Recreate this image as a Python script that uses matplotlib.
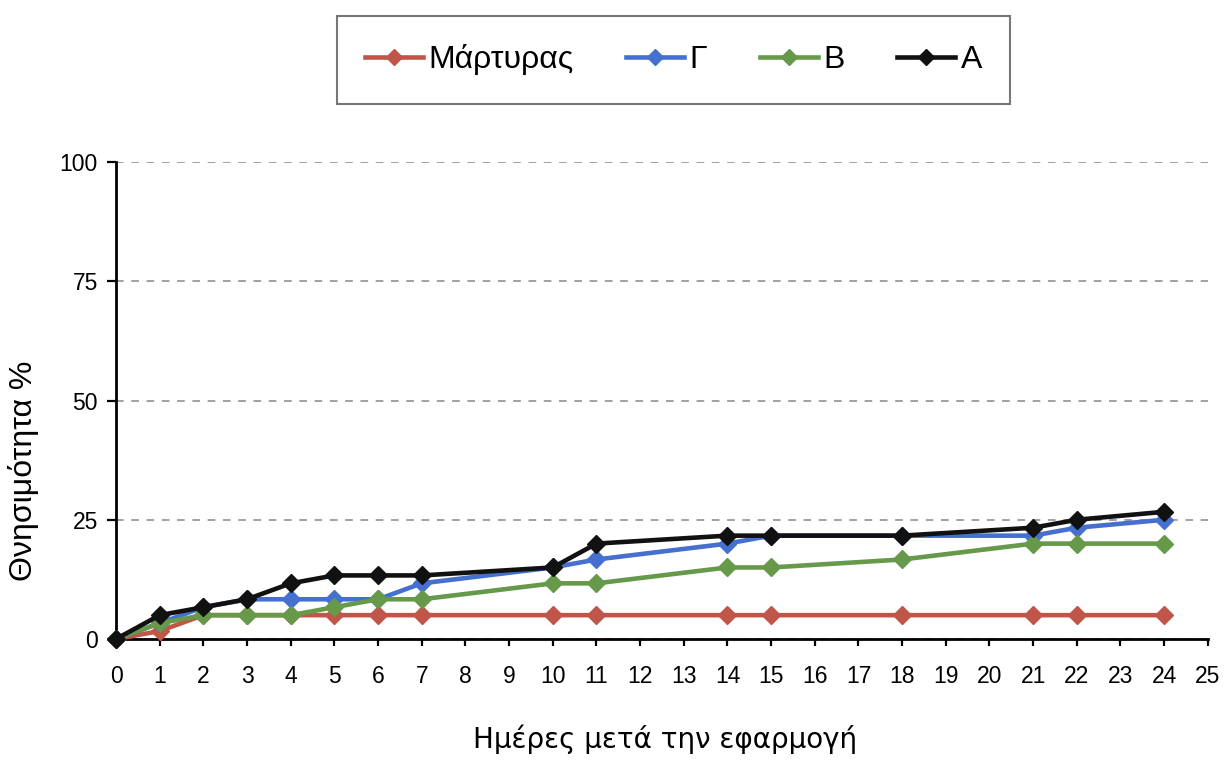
import matplotlib
matplotlib.use("Agg")
from matplotlib import pyplot as plt

plt.rcParams['font.family'] = ['Liberation Sans', 'DejaVu Sans']

days = [0, 1, 2, 3, 4, 5, 6, 7, 10, 11, 14, 15, 18, 21, 22, 24]

control = [0, 1.67, 5, 5, 5, 5, 5, 5, 5, 5, 5, 5, 5, 5, 5, 5]
gamma = [0, 3.33, 6.67, 8.33, 8.33, 8.33, 8.33, 11.67, 15, 16.67, 20, 21.67, 21.67, 21.67, 23.33, 25]
beta = [0, 3.33, 5, 5, 5, 6.67, 8.33, 8.33, 11.67, 11.67, 15, 15, 16.67, 20, 20, 20]
alpha = [0, 5, 6.67, 8.33, 11.67, 13.33, 13.33, 13.33, 15, 20, 21.67, 21.67, 21.67, 23.33, 25, 26.67]

series = [
    ("Μάρτυρας", control, "#C0564A"),
    ("Γ", gamma, "#4570CF"),
    ("Β", beta, "#67994A"),
    ("Α", alpha, "#111111"),
]

fig = plt.figure(figsize=(12.24, 7.62), dpi=100)
ax = fig.add_axes([0.0948, 0.1614, 0.892, 0.626])

for name, vals, col in series:
    ax.plot(days, vals, "-D", color=col, lw=3.3, markersize=9, label=name, clip_on=False, zorder=3)

ax.set_xlim(0, 25)
ax.set_ylim(0, 100)
ax.set_xticks(range(0, 26))
ax.set_yticks([0, 25, 50, 75, 100])
ax.yaxis.grid(True, linestyle=(0, (5, 5)), color="#888888", lw=1.1)
ax.set_axisbelow(True)

for side in ("top", "right"):
    ax.spines[side].set_visible(False)
for side in ("left", "bottom"):
    ax.spines[side].set_linewidth(2)
    ax.spines[side].set_color("black")
ax.tick_params(axis="x", direction="out", length=5, width=1.6, labelsize=16.5, pad=14)
ax.tick_params(axis="y", direction="out", length=6.5, width=1.6, labelsize=16.5, pad=6.5)

ax.set_ylabel("Θνησιμότητα %", fontsize=23)
ax.yaxis.set_label_coords(-0.0705, 0.352)
ax.set_xlabel("Ημέρες μετά την εφαρμογή", fontsize=20, family=["DejaVu Sans"])
ax.xaxis.set_label_coords(0.503, -0.180)

leg = fig.legend(loc="center", bbox_to_anchor=(0.5502, 0.9213), ncol=4, fontsize=23,
                 frameon=True, fancybox=False, edgecolor="#555555", handlelength=1.82,
                 handletextpad=0.16, columnspacing=1.65, borderpad=0.88, markerscale=0.9)
leg.get_frame().set_linewidth(1.5)

fig.savefig("out.png", dpi=100)
